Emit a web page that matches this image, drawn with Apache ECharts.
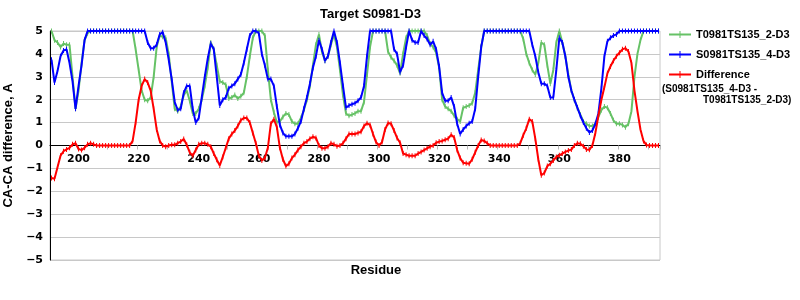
<!DOCTYPE html>
<html><head><meta charset="utf-8">
<script src="https://cdn.jsdelivr.net/npm/echarts@6/dist/echarts.min.js"></script>
<style>html,body{margin:0;padding:0;background:#fff}#c{width:800px;height:300px}</style>
</head><body><div id="c"></div>
<script>
const chartTitle = 'Target S0981-D3';
const xName = 'Residue';
const yName = 'CA-CA difference, A';
const seriesNames = ['T0981TS135_2-D3', 'S0981TS135_4-D3', 'Difference'];
const diffNote = ['(S0981TS135_4-D3 -', 'T0981TS135_2-D3)'];
const firstResidue = 191, lastResidue = 393;
const xLabelValues = [200, 220, 240, 260, 280, 300, 320, 340, 360, 380];
const xTickValues = [200, 210, 220, 230, 240, 250, 260, 270, 280, 290, 300, 310, 320, 330, 340, 350, 360, 370, 380, 390];
const yMin = -5, yMax = 5, yStep = 1;

// residues 191..393
const green = [
 5.0, 4.6, 4.5, 4.3, 4.45, 4.4, 4.4, 3.0, 1.6, 2.4,
 3.6, 4.6, 4.9, 5, 5, 5, 5, 5, 5, 5,
 5, 5, 5, 5, 5, 5, 5, 5, 4.2, 3.3,
 2.4, 2.0, 1.95, 2.1, 3.0, 4.3, 4.8, 4.75, 4.7, 4.0,
 2.8, 1.6, 1.5, 1.7, 2.2, 2.4, 1.95, 1.4, 1.4, 1.6,
 2.0, 2.6, 3.4, 4.5, 4.2, 3.5, 2.8, 2.75, 2.65, 2.05,
 2.1, 2.2, 2.05, 2.15, 2.3, 3.0, 3.9, 4.7, 5, 5,
 5, 4.8, 3.3, 2.0, 1.45, 1.0, 1.05, 1.25, 1.4, 1.35,
 1.05, 0.95, 0.95, 1.2, 1.55, 2.0, 2.6, 3.5, 4.4, 4.85,
 4.1, 3.7, 3.9, 4.4, 4.85, 4.3, 3.3, 2.2, 1.4, 1.3,
 1.35, 1.4, 1.5, 1.5, 1.9, 3.1, 4.3, 5, 5, 5,
 5, 5, 4.1, 3.85, 3.7, 3.5, 3.15, 4.0, 4.7, 5,
 5, 5, 5, 5, 5, 4.8, 4.45, 4.3, 4.05, 3.4,
 2.0, 1.7, 1.6, 1.5, 1.3, 1.15, 1.05, 1.65, 1.7, 1.75,
 1.85, 2.3, 3.3, 4.3, 5, 5, 5, 5, 5, 5,
 5, 5, 5, 5, 5, 5, 5, 4.65, 4.0, 3.6,
 3.3, 3.1, 3.6, 4.5, 4.4, 3.5, 2.7, 3.3, 4.5, 5,
 4.5, 3.9, 3.1, 2.4, 2.0, 1.65, 1.35, 1.05, 0.95, 0.85,
 0.85, 0.95, 1.25, 1.55, 1.7, 1.65, 1.4, 1.1, 0.95, 0.95,
 0.9, 0.8, 0.95, 1.5, 3.0, 4.0, 4.6, 5, 5, 5,
 5, 5, 5
];
const blue = [
 3.75, 2.75, 3.25, 3.9, 4.15, 4.2, 3.6, 2.8, 1.6, 2.6,
 3.5, 4.6, 5, 5, 5, 5, 5, 5, 5, 5,
 5, 5, 5, 5, 5, 5, 5, 5, 5, 5,
 5, 5, 4.5, 4.25, 4.25, 4.4, 4.85, 4.95, 4.5, 3.75,
 2.9, 1.9, 1.55, 1.6, 2.3, 2.6, 2.6, 1.6, 1.0, 1.2,
 2.1, 3.0, 3.8, 4.45, 4.2, 3.0, 1.75, 2.0, 2.1, 2.5,
 2.6, 2.7, 2.9, 3.1, 3.6, 4.2, 4.8, 5, 5, 4.9,
 4.0, 3.5, 2.9, 2.9, 2.6, 1.7, 0.9, 0.55, 0.4, 0.4,
 0.4, 0.5, 0.75, 1.05, 1.6, 2.1, 2.7, 3.4, 3.9, 4.6,
 4.2, 3.7, 3.9, 4.5, 5, 4.5, 3.6, 2.6, 1.65, 1.75,
 1.8, 1.85, 1.95, 2.1, 2.6, 3.9, 5, 5, 5, 5,
 5, 5, 5, 5, 4.2, 4.0, 3.2, 3.5, 4.3, 5,
 4.6, 4.5, 4.5, 5, 4.8, 4.65, 4.4, 4.55, 4.2, 3.45,
 2.3, 1.95, 1.95, 2.1, 1.7, 0.95, 0.5, 0.7, 0.85, 0.97,
 1.05, 1.6, 3.0, 4.3, 5, 5, 5, 5, 5, 5,
 5, 5, 5, 5, 5, 5, 5, 5, 5, 5,
 4.4, 3.9, 3.2, 2.7, 2.7, 2.6, 2.1, 2.1, 3.3, 4.7,
 4.5, 3.9, 3.0, 2.4, 2.0, 1.65, 1.3, 1.0, 0.75, 0.57,
 0.65, 0.95, 1.4, 2.5, 3.9, 4.55, 4.7, 4.8, 4.85, 5,
 5, 5, 5, 5, 5, 5, 5, 5, 5, 5,
 5, 5, 5
];
const diff = [
 -1.42, -1.45, -0.95, -0.45, -0.25, -0.17, -0.1, 0.05, 0.1, -0.15,
 -0.2, -0.1, 0.05, 0.1, 0.05, 0, 0, 0, 0, 0,
 0, 0, 0, 0, 0, 0, 0, 0.2, 1.0, 2.0,
 2.6, 2.9, 2.75, 2.4, 1.6, 0.7, 0.2, 0.0, -0.05, 0.0,
 0.03, 0.03, 0.1, 0.17, 0.28, 0.03, -0.3, -0.45, -0.2, 0.05,
 0.1, 0.1, 0.05, -0.05, -0.35, -0.62, -0.87, -0.5, -0.1, 0.3,
 0.5, 0.65, 0.85, 1.1, 1.2, 1.2, 1.0, 0.55, 0.1, -0.45,
 -0.65, -0.55, -0.1, 0.95, 1.15, 0.8, -0.1, -0.6, -0.9, -0.8,
 -0.55, -0.4, -0.2, -0.05, 0.1, 0.17, 0.3, 0.38, 0.33, 0.0,
 -0.12, -0.12, -0.05, 0.1, 0.05, -0.03, 0.0, 0.1, 0.3, 0.5,
 0.5, 0.5, 0.55, 0.6, 0.85, 0.97, 0.9, 0.5, 0.15, 0.0,
 0.15, 0.7, 0.98, 0.95, 0.65, 0.33, 0.12, -0.35, -0.4, -0.45,
 -0.45, -0.45, -0.35, -0.28, -0.2, -0.12, -0.05, 0.0, 0.12, 0.17,
 0.2, 0.25, 0.3, 0.47, 0.35, -0.2, -0.55, -0.75, -0.78, -0.8,
 -0.6, -0.3, 0.0, 0.24, 0.2, 0.1, 0, 0, 0, 0,
 0, 0, 0, 0, 0, 0, 0.1, 0.45, 0.75, 1.15,
 1.05, 0.3, -0.6, -1.3, -1.2, -0.9, -0.8, -0.65, -0.5, -0.43,
 -0.35, -0.28, -0.22, -0.18, 0.0, 0.1, 0.08, -0.03, -0.17, -0.19,
 0.0, 0.55, 1.3, 2.0, 2.55, 3.15, 3.45, 3.7, 3.9, 4.05,
 4.2, 4.25, 4.1, 3.6, 2.4, 1.5, 0.7, 0.2, 0.02, 0,
 0, 0, 0
];

const residues = [];
for (let r = firstResidue; r <= lastResidue; r++) residues.push(String(r));

const colors = ['#66c266', '#0000ff', '#ff0000'];
const labelSet = new Set(xLabelValues.map(String));
const tickSet = new Set(xTickValues.map(String));
const boldArial = 'Liberation Sans';

const gridTop = 31, gridBottom = 40, chartH = 300;
const plotH = chartH - gridTop - gridBottom;
// zero sits in the middle of the symmetric value range
const zeroOffset = -plotH * (0 - yMin) / (yMax - yMin);

const legendIcon = 'path://M0,6 L22,6 L22,8 L0,8 Z M10.5,3.5 L11.5,3.5 L11.5,10.5 L10.5,10.5 Z';

function lineSeries(name, data, color, z) {
  return {
    name: name, type: 'line', data: data, z: z,
    symbol: 'rect', symbolSize: [1, 5], showAllSymbol: true,
    lineStyle: { width: 2, color: color },
    itemStyle: { color: color },
    emphasis: { disabled: true },
    animation: false
  };
}

const chart = echarts.init(document.getElementById('c'), null, { renderer: 'canvas' });
chart.setOption({
  backgroundColor: '#fff',
  animation: false,
  title: {
    text: chartTitle, left: 320, top: 8, padding: 0,
    textStyle: { fontFamily: boldArial, fontWeight: 'bold', fontSize: 13, color: '#000' }
  },
  legend: {
    orient: 'vertical', left: 669, top: 29, padding: 0,
    itemWidth: 22, itemHeight: 14, itemGap: 9, icon: legendIcon,
    textStyle: { fontFamily: boldArial, fontWeight: 'bold', fontSize: 11, color: '#000' },
    data: seriesNames
  },
  grid: {
    left: 50, right: 140, top: gridTop, bottom: gridBottom,
    outerBoundsMode: 'none', containLabel: false,
    show: true, borderColor: '#c8c8c8', borderWidth: 1, backgroundColor: 'transparent'
  },
  xAxis: {
    type: 'category', data: residues, boundaryGap: true,
    position: 'bottom', offset: zeroOffset,
    axisLine: { onZero: false, lineStyle: { color: '#000', width: 1 } },
    axisTick: { show: true, length: 4, interval: (i, v) => tickSet.has(v), lineStyle: { color: '#b8b8b8' } },
    axisLabel: {
      interval: (i, v) => labelSet.has(v), margin: 8,
      fontFamily: 'DejaVu Sans', fontWeight: 'bold', fontSize: 11, color: '#000'
    },
    splitLine: { show: false }
  },
  yAxis: {
    type: 'value', min: yMin, max: yMax, interval: yStep,
    name: yName, nameLocation: 'middle', nameGap: 28,
    nameTextStyle: { fontFamily: boldArial, fontWeight: 'bold', fontSize: 13, color: '#000' },
    axisLine: { show: true, onZero: false, lineStyle: { color: '#000', width: 1 } },
    axisTick: { show: false },
    axisLabel: {
      margin: 7, formatter: v => String(v).replace('-', '\u2212'),
      fontFamily: 'DejaVu Sans', fontWeight: 'bold', fontSize: 11, color: '#000'
    },
    splitLine: { show: true, lineStyle: { color: '#c8c8c8', width: 1 } }
  },
  graphic: [
    { type: 'text', x: 376, y: 270, silent: true,
      style: { text: xName, align: 'center', verticalAlign: 'middle', fill: '#000',
               font: 'bold 13px "Liberation Sans"' } },
    { type: 'text', x: 662, y: 89, silent: true,
      style: { text: diffNote[0], align: 'left', verticalAlign: 'middle', fill: '#000',
               font: 'bold 10px "Liberation Sans"' } },
    { type: 'text', x: 703, y: 100, silent: true,
      style: { text: diffNote[1], align: 'left', verticalAlign: 'middle', fill: '#000',
               font: 'bold 10px "Liberation Sans"' } }
  ],
  series: [
    lineSeries(seriesNames[0], green, colors[0], 2),
    lineSeries(seriesNames[1], blue, colors[1], 3),
    lineSeries(seriesNames[2], diff, colors[2], 4)
  ]
});
</script>
</body></html>
